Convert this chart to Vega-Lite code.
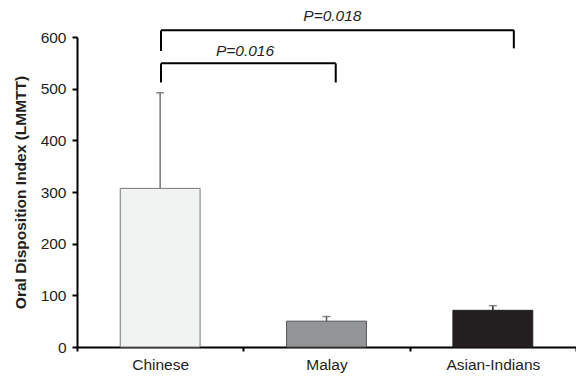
{
  "$schema": "https://vega.github.io/schema/vega-lite/v6.json",
  "width": 499,
  "height": 310,
  "autosize": {"type": "none"},
  "padding": {"left": 77, "top": 37, "right": 0, "bottom": 33},
  "background": "white",
  "config": {
    "view": {"stroke": null},
    "font": "Liberation Sans"
  },
  "datasets": {
    "groups": [
      {"group": "Chinese", "mean": 307, "upper": 492},
      {"group": "Malay", "mean": 50, "upper": 59},
      {"group": "Asian-Indians", "mean": 71, "upper": 80}
    ],
    "brackets": [
      {"x": 0, "x2": 2.1, "y": 613, "y2": 613},
      {"x": 0, "x2": 0, "y": 613, "y2": 573},
      {"x": 2.1, "x2": 2.1, "y": 613, "y2": 578},
      {"x": 0, "x2": 1.04, "y": 549, "y2": 549},
      {"x": 0, "x2": 0, "y": 549, "y2": 512},
      {"x": 1.04, "x2": 1.04, "y": 549, "y2": 512}
    ],
    "pvalues": [
      {"x": 1.02, "y": 641, "label": "P=0.018"},
      {"x": 0.5, "y": 573, "label": "P=0.016"}
    ]
  },
  "layer": [
    {
      "data": {"name": "groups"},
      "mark": {"type": "bar", "width": {"band": 0.48}, "strokeWidth": 1},
      "encoding": {
        "x": {
          "field": "group", "type": "nominal",
          "sort": ["Chinese", "Malay", "Asian-Indians"],
          "scale": {"paddingInner": 0, "paddingOuter": 0},
          "axis": {
            "title": null, "labelAngle": 0, "labelFontSize": 15.5, "labelColor": "#231f20",
            "labelPadding": 6, "tickBand": "extent", "tickSize": 4, "tickColor": "#000",
            "tickWidth": 2, "domainColor": "#000", "domainWidth": 2
          }
        },
        "y": {
          "field": "mean", "type": "quantitative",
          "scale": {"domain": [0, 600], "nice": false},
          "axis": {
            "title": "Oral Disposition Index (LMMTT)", "titleFontSize": 15.5, "titleFontWeight": "bold",
            "titleColor": "#231f20", "titlePadding": 12,
            "values": [0, 100, 200, 300, 400, 500, 600], "grid": false,
            "labelFontSize": 15.5, "labelColor": "#231f20", "labelPadding": 6,
            "tickSize": 5, "tickColor": "#000", "tickWidth": 2,
            "domainColor": "#000", "domainWidth": 2
          }
        },
        "fill": {
          "field": "group", "type": "nominal", "legend": null,
          "scale": {"domain": ["Chinese", "Malay", "Asian-Indians"], "range": ["#f1f2f2", "#939598", "#231f20"]}
        },
        "stroke": {
          "field": "group", "type": "nominal", "legend": null,
          "scale": {"domain": ["Chinese", "Malay", "Asian-Indians"], "range": ["#777777", "#555555", "#231f20"]}
        }
      }
    },
    {
      "data": {"name": "groups"},
      "mark": {"type": "rule", "strokeWidth": 1.5},
      "encoding": {
        "x": {"field": "group", "type": "nominal", "sort": ["Chinese", "Malay", "Asian-Indians"], "axis": null},
        "y": {"field": "mean", "type": "quantitative", "scale": {"domain": [0, 600], "nice": false}},
        "y2": {"field": "upper"},
        "stroke": {"field": "group", "type": "nominal", "legend": null}
      }
    },
    {
      "data": {"name": "groups"},
      "mark": {"type": "tick", "size": 8, "thickness": 1.5},
      "encoding": {
        "x": {"field": "group", "type": "nominal", "sort": ["Chinese", "Malay", "Asian-Indians"], "axis": null},
        "y": {"field": "upper", "type": "quantitative", "scale": {"domain": [0, 600], "nice": false}},
        "color": {"value": "#555555"}
      }
    },
    {
      "data": {"name": "brackets"},
      "mark": {"type": "rule", "strokeWidth": 2, "color": "#000"},
      "encoding": {
        "x": {"field": "x", "type": "quantitative", "scale": {"domain": [-0.5, 2.47], "nice": false, "zero": false}, "axis": null},
        "x2": {"field": "x2"},
        "y": {"field": "y", "type": "quantitative", "scale": {"domain": [0, 600], "nice": false}},
        "y2": {"field": "y2"}
      }
    },
    {
      "data": {"name": "pvalues"},
      "mark": {"type": "text", "fontSize": 15.5, "fontStyle": "italic", "color": "#231f20", "align": "center", "baseline": "middle"},
      "encoding": {
        "x": {"field": "x", "type": "quantitative", "scale": {"domain": [-0.5, 2.47], "nice": false, "zero": false}, "axis": null},
        "y": {"field": "y", "type": "quantitative", "scale": {"domain": [0, 600], "nice": false}},
        "text": {"field": "label"}
      }
    }
  ],
  "resolve": {"scale": {"x": "independent"}, "axis": {"x": "independent"}}
}
